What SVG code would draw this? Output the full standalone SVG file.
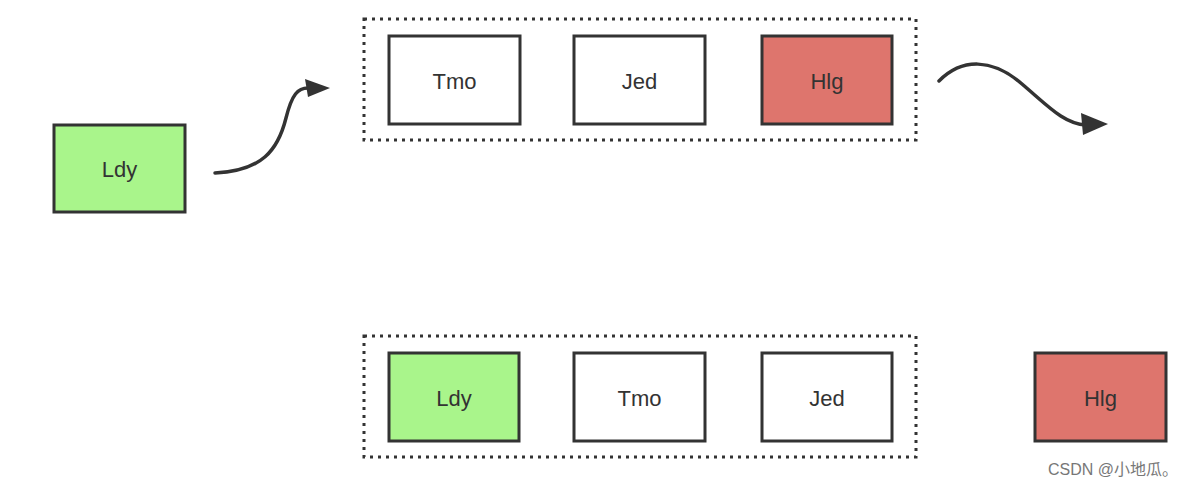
<svg xmlns="http://www.w3.org/2000/svg" width="1188" height="488" viewBox="0 0 1188 488">
<style>
.box{stroke:#333;stroke-width:3}
.white{fill:#fff}
.green{fill:#a9f58b}
.red{fill:#de756d}
.grp{fill:none;stroke:#333;stroke-width:3;stroke-dasharray:3 5}
.lbl{font-family:"Liberation Sans",Arial,sans-serif;font-size:22px;fill:#333;text-anchor:middle;dominant-baseline:central}
.conn{fill:none;stroke:#333;stroke-width:3.5;stroke-linecap:round}
.head{fill:#333}
.wm{font-family:"Liberation Sans","Noto Sans CJK SC",sans-serif;font-size:16px;fill:#777}
</style>
<rect width="1188" height="488" fill="#fff"/>
<g id="group-top"><rect class="grp" x="364" y="19" width="552" height="121"/></g>
<g id="group-bottom"><rect class="grp" x="364" y="336" width="552" height="121"/></g>
<g id="ldy-left"><rect class="box green" x="54" y="125" width="131" height="87"/><text class="lbl" x="119.5" y="169">Ldy</text></g>
<g id="tmo-top"><rect class="box white" x="389" y="36" width="131" height="88"/><text class="lbl" x="454.5" y="81">Tmo</text></g>
<g id="jed-top"><rect class="box white" x="574" y="36" width="131" height="88"/><text class="lbl" x="639.5" y="81">Jed</text></g>
<g id="hlg-top"><rect class="box red" x="762" y="36" width="130" height="88"/><text class="lbl" x="827" y="81">Hlg</text></g>
<g id="ldy-bottom"><rect class="box green" x="389" y="353" width="130" height="88"/><text class="lbl" x="454" y="398">Ldy</text></g>
<g id="tmo-bottom"><rect class="box white" x="574" y="353" width="131" height="88"/><text class="lbl" x="639.5" y="398">Tmo</text></g>
<g id="jed-bottom"><rect class="box white" x="762" y="353" width="130" height="88"/><text class="lbl" x="827" y="398">Jed</text></g>
<g id="hlg-right"><rect class="box red" x="1035" y="353" width="131" height="88"/><text class="lbl" x="1100.5" y="398">Hlg</text></g>
<g id="connectors">
<path class="conn" d="M215,173 C262,171 278,150 286,118 C292,94 298,88 308,88"/>
<polygon class="head" points="330,88 305,79 308,97"/>
<path class="conn" d="M939,81 C962,58 992,58 1022,84 C1048,106 1064,124 1086,125"/>
<polygon class="head" points="1108,124 1081,113 1083,135"/>
</g>
<text class="wm" x="1048" y="475">CSDN @小地瓜。</text>
</svg>
